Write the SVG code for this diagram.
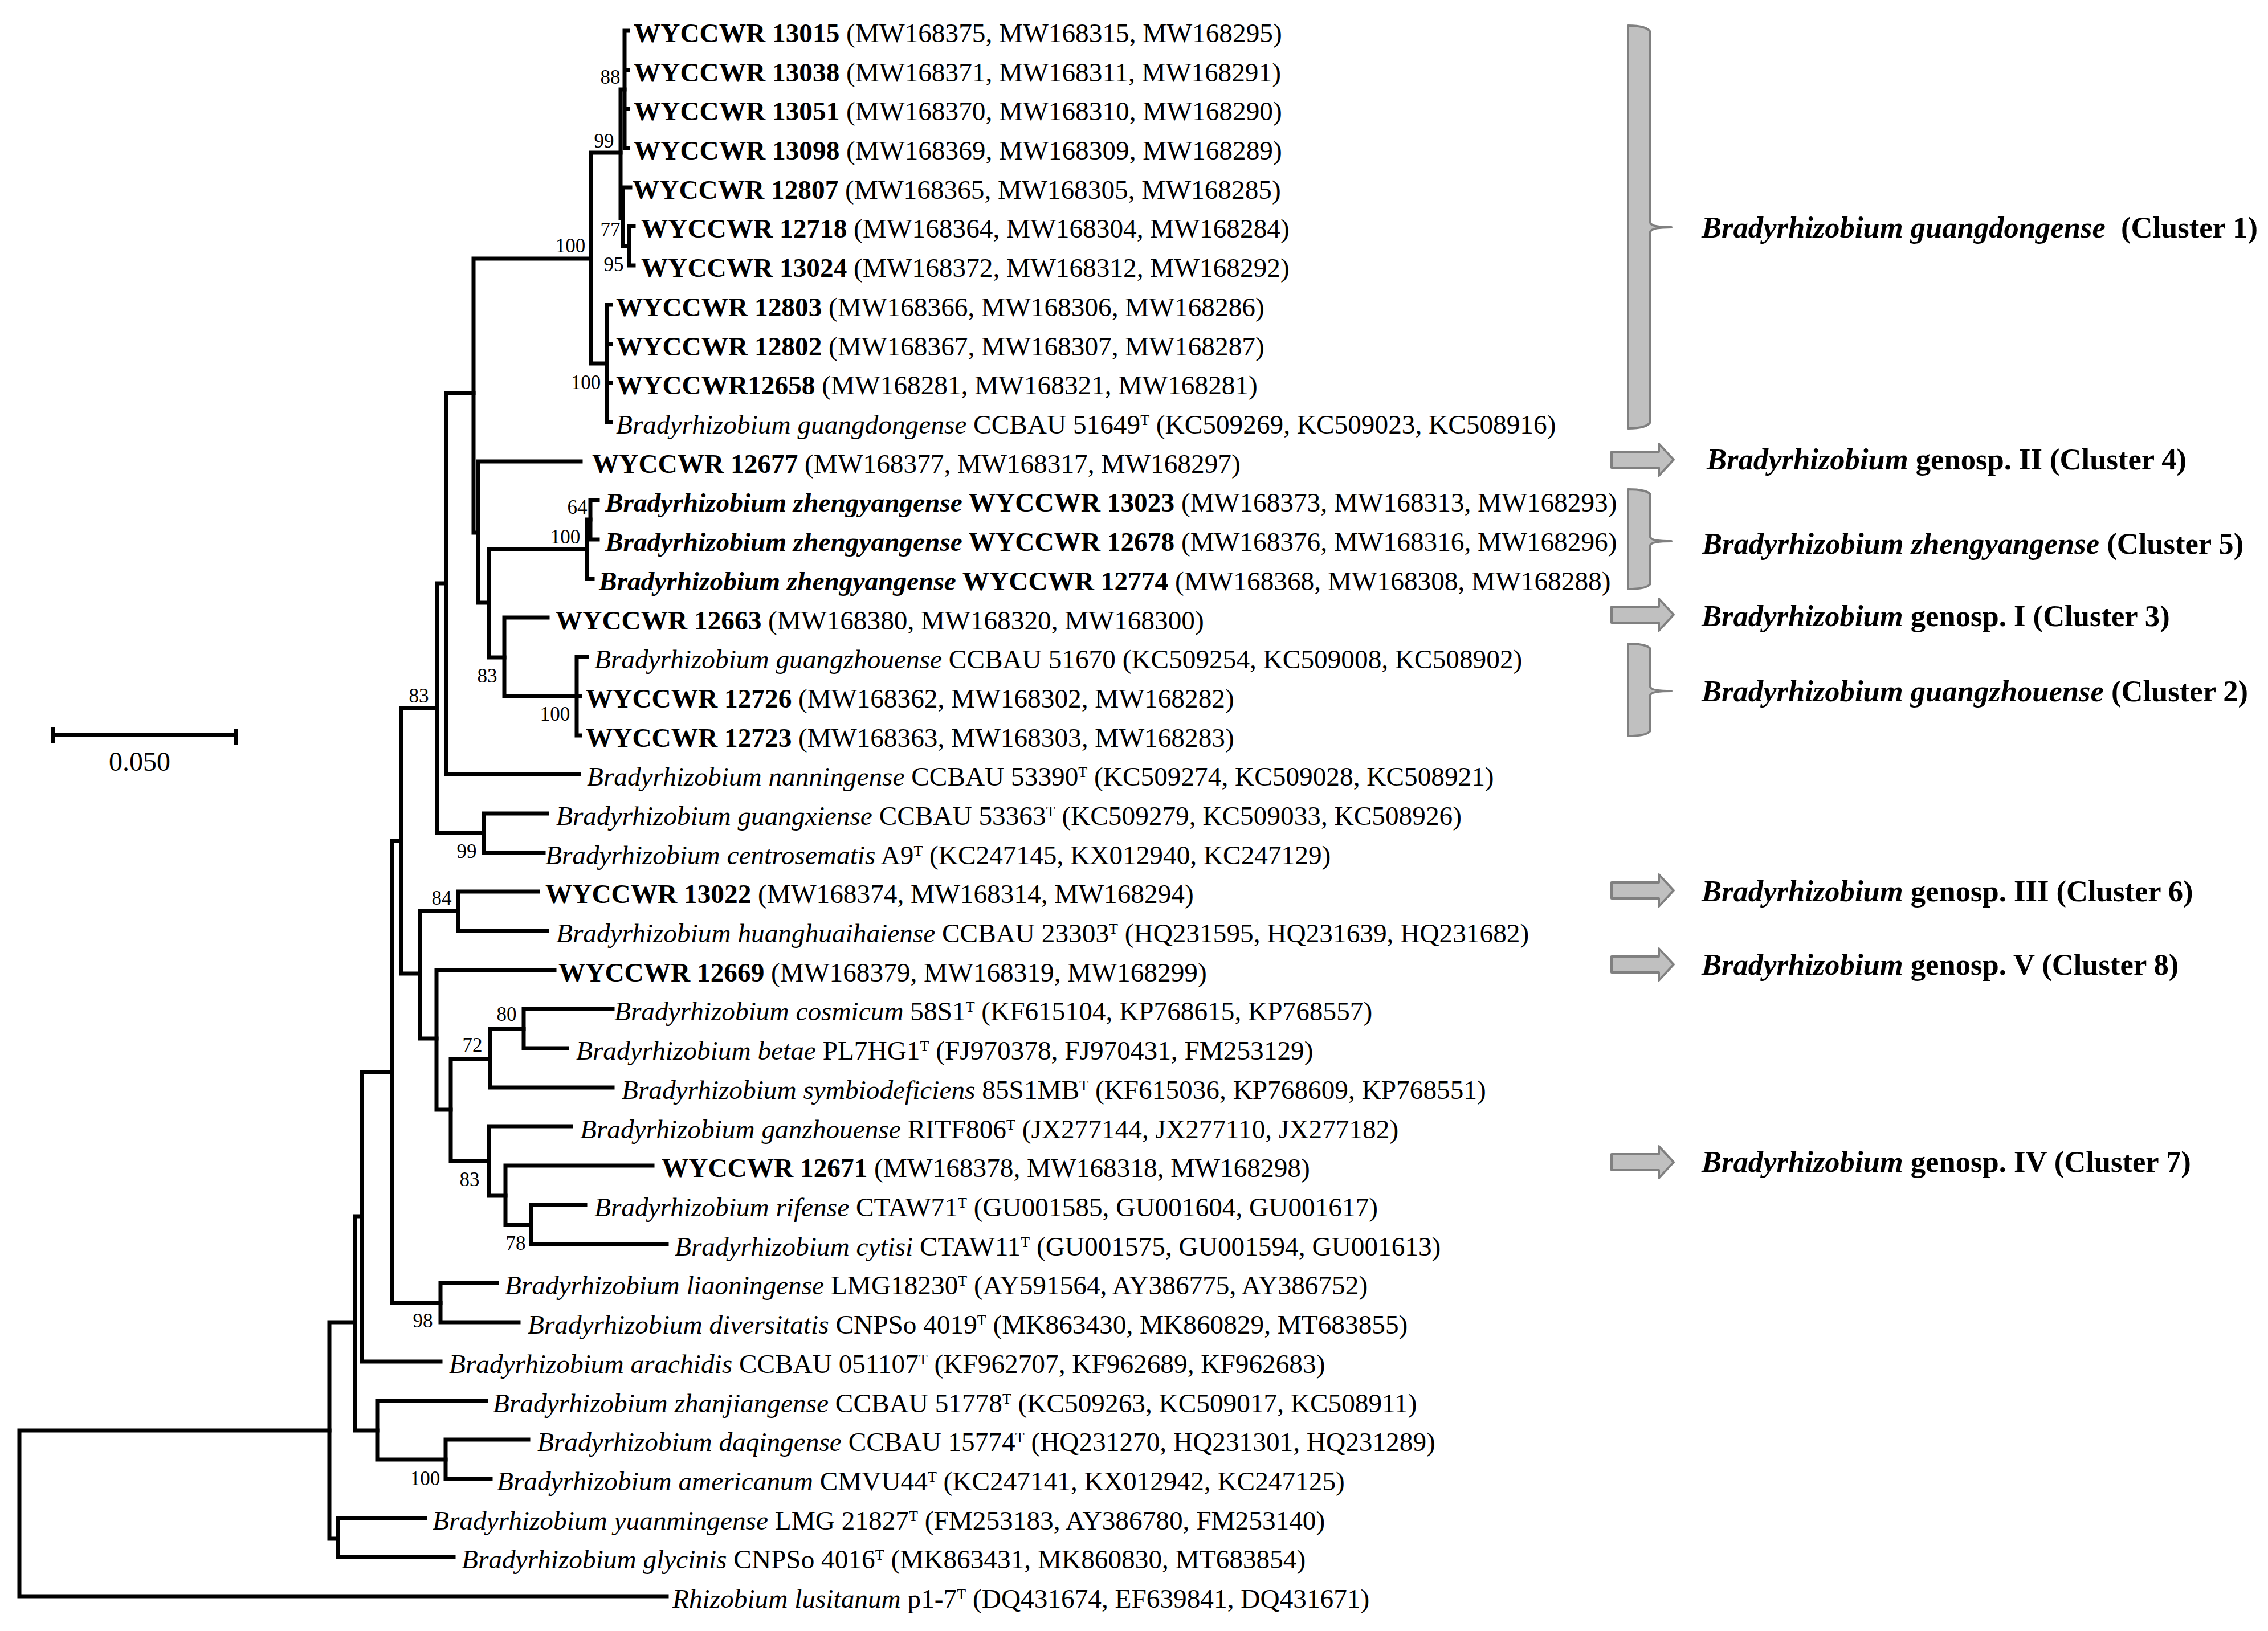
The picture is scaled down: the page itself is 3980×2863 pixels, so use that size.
<svg xmlns="http://www.w3.org/2000/svg" width="3980" height="2863" viewBox="0 0 3980 2863">
<style>
text{font-family:"Liberation Serif","Times New Roman",serif;fill:#000}
.t{font-size:47.3px}
.b{font-weight:bold}
.i{font-style:italic}
.s{font-size:26px}
.bs{font-size:35px;text-anchor:middle}
.cl{font-size:52.6px;font-weight:bold}
#connectors path{stroke:#000;stroke-width:7;fill:none;stroke-linecap:square}
.gr{fill:#c0c0c0;stroke:#808080;stroke-width:4;stroke-linejoin:round}
</style>
<rect width="3980" height="2863" fill="#fff"/>
<g id="connectors">
<path d="M34 2511V2802M34 2511H578M34 2802H1170"/>
<path d="M578 2321V2701M578 2321H623M578 2701H593"/>
<path d="M593 2665V2733M593 2665H746M593 2733H796"/>
<path d="M623 2135V2511M623 2135H635M623 2511H662"/>
<path d="M662 2459V2562M662 2459H853M662 2562H782"/>
<path d="M782 2527V2596M782 2527H927M782 2596H861"/>
<path d="M635 1882V2390M635 1882H688M635 2390H773"/>
<path d="M688 1476V2287M688 1476H704M688 2287H773"/>
<path d="M773 2252V2321M773 2252H872M773 2321H910"/>
<path d="M704 1243V1709M704 1243H767M704 1709H737"/>
<path d="M737 1599V1823M737 1599H804M737 1823H766"/>
<path d="M804 1565V1634M804 1565H944M804 1634H960"/>
<path d="M766 1703V1948M766 1703H973M766 1948H791"/>
<path d="M791 1859V2038M791 1859H860M791 2038H858"/>
<path d="M860 1806V1909M860 1806H919M860 1909H1075"/>
<path d="M919 1771V1840M919 1771H1075M919 1840H995"/>
<path d="M858 1977V2099M858 1977H1002M858 2099H887"/>
<path d="M887 2046V2150M887 2046H1145M887 2150H932"/>
<path d="M932 2115V2184M932 2115H1027M932 2184H1170"/>
<path d="M767 1024V1462M767 1024H783M767 1462H849"/>
<path d="M849 1428V1497M849 1428H960M849 1497H954"/>
<path d="M783 690V1359M783 690H831M783 1359H1016"/>
<path d="M831 454V935M831 454H1037M831 935H839"/>
<path d="M839 810V1058M839 810H1019M839 1058H858"/>
<path d="M858 964V1154M858 964H1030M858 1154H885"/>
<path d="M1030 912V1016M1030 912H1036M1030 1016H1040"/>
<path d="M1036 878V947M1036 878H1049M1036 947H1049"/>
<path d="M885 1084V1222M885 1084H961M885 1222H1012"/>
<path d="M1012 1153V1291M1012 1153H1030M1012 1222H1018M1012 1291H1018"/>
<path d="M1037 268V638M1037 268H1089M1037 638H1065"/>
<path d="M1065 535V741M1065 535H1072M1065 604H1072M1065 672H1072M1065 741H1072"/>
<path d="M1089 157V383M1089 157H1096M1089 383H1093"/>
<path d="M1096 54V260M1096 54H1102M1096 123H1102M1096 191H1102M1096 260H1102"/>
<path d="M1093 329V432M1093 329H1106M1093 432H1104"/>
<path d="M1104 397V466M1104 397H1112M1104 466H1112"/>
</g>
<g id="bootstrap">
<text class="bs" x="1071" y="147">88</text>
<text class="bs" x="1060" y="259">99</text>
<text class="bs" x="1001" y="443">100</text>
<text class="bs" x="1071" y="415">77</text>
<text class="bs" x="1077" y="476">95</text>
<text class="bs" x="1028" y="683">100</text>
<text class="bs" x="1013" y="902">64</text>
<text class="bs" x="992" y="954">100</text>
<text class="bs" x="855" y="1198">83</text>
<text class="bs" x="974" y="1265">100</text>
<text class="bs" x="735" y="1233">83</text>
<text class="bs" x="819" y="1506">99</text>
<text class="bs" x="775" y="1588">84</text>
<text class="bs" x="889" y="1792">80</text>
<text class="bs" x="829" y="1846">72</text>
<text class="bs" x="824" y="2082">83</text>
<text class="bs" x="905" y="2194">78</text>
<text class="bs" x="742" y="2330">98</text>
<text class="bs" x="746" y="2607">100</text>
</g>
<g id="taxa" class="t">
<g id="n0"><text x="1112" y="74"><tspan class="b">WYCCWR 13015</tspan> (MW168375, MW168315, MW168295)</text></g>
<g id="n1"><text x="1112" y="143"><tspan class="b">WYCCWR 13038</tspan> (MW168371, MW168311, MW168291)</text></g>
<g id="n2"><text x="1112" y="211"><tspan class="b">WYCCWR 13051</tspan> (MW168370, MW168310, MW168290)</text></g>
<g id="n3"><text x="1112" y="280"><tspan class="b">WYCCWR 13098</tspan> (MW168369, MW168309, MW168289)</text></g>
<g id="n4"><text x="1110" y="349"><tspan class="b">WYCCWR 12807</tspan> (MW168365, MW168305, MW168285)</text></g>
<g id="n5"><text x="1125" y="417"><tspan class="b">WYCCWR 12718</tspan> (MW168364, MW168304, MW168284)</text></g>
<g id="n6"><text x="1125" y="486"><tspan class="b">WYCCWR 13024</tspan> (MW168372, MW168312, MW168292)</text></g>
<g id="n7"><text x="1081" y="555"><tspan class="b">WYCCWR 12803</tspan> (MW168366, MW168306, MW168286)</text></g>
<g id="n8"><text x="1081" y="624"><tspan class="b">WYCCWR 12802</tspan> (MW168367, MW168307, MW168287)</text></g>
<g id="n9"><text x="1081" y="692"><tspan class="b">WYCCWR12658</tspan> (MW168281, MW168321, MW168281)</text></g>
<g id="n10"><text x="1081" y="761"><tspan class="i">Bradyrhizobium guangdongense</tspan> CCBAU 51649<tspan class="s" dy="-15">T</tspan><tspan dy="15"> (KC509269, KC509023, KC508916)</tspan></text></g>
<g id="n11"><text x="1039" y="830"><tspan class="b">WYCCWR 12677</tspan> (MW168377, MW168317, MW168297)</text></g>
<g id="n12"><text x="1062" y="898"><tspan class="b i">Bradyrhizobium zhengyangense</tspan><tspan class="b"> WYCCWR 13023</tspan> (MW168373, MW168313, MW168293)</text></g>
<g id="n13"><text x="1062" y="967"><tspan class="b i">Bradyrhizobium zhengyangense</tspan><tspan class="b"> WYCCWR 12678</tspan> (MW168376, MW168316, MW168296)</text></g>
<g id="n14"><text x="1051" y="1036"><tspan class="b i">Bradyrhizobium zhengyangense</tspan><tspan class="b"> WYCCWR 12774</tspan> (MW168368, MW168308, MW168288)</text></g>
<g id="n15"><text x="975" y="1105"><tspan class="b">WYCCWR 12663</tspan> (MW168380, MW168320, MW168300)</text></g>
<g id="n16"><text x="1043" y="1173"><tspan class="i">Bradyrhizobium guangzhouense</tspan> CCBAU 51670 (KC509254, KC509008, KC508902)</text></g>
<g id="n17"><text x="1028" y="1242"><tspan class="b">WYCCWR 12726</tspan> (MW168362, MW168302, MW168282)</text></g>
<g id="n18"><text x="1028" y="1311"><tspan class="b">WYCCWR 12723</tspan> (MW168363, MW168303, MW168283)</text></g>
<g id="n19"><text x="1030" y="1379"><tspan class="i">Bradyrhizobium nanningense</tspan> CCBAU 53390<tspan class="s" dy="-15">T</tspan><tspan dy="15"> (KC509274, KC509028, KC508921)</tspan></text></g>
<g id="n20"><text x="976" y="1448"><tspan class="i">Bradyrhizobium guangxiense</tspan> CCBAU 53363<tspan class="s" dy="-15">T</tspan><tspan dy="15"> (KC509279, KC509033, KC508926)</tspan></text></g>
<g id="n21"><text x="957" y="1517"><tspan class="i">Bradyrhizobium centrosematis</tspan> A9<tspan class="s" dy="-15">T</tspan><tspan dy="15"> (KC247145, KX012940, KC247129)</tspan></text></g>
<g id="n22"><text x="957" y="1585"><tspan class="b">WYCCWR 13022</tspan> (MW168374, MW168314, MW168294)</text></g>
<g id="n23"><text x="976" y="1654"><tspan class="i">Bradyrhizobium huanghuaihaiense</tspan> CCBAU 23303<tspan class="s" dy="-15">T</tspan><tspan dy="15"> (HQ231595, HQ231639, HQ231682)</tspan></text></g>
<g id="n24"><text x="980" y="1723"><tspan class="b">WYCCWR 12669</tspan> (MW168379, MW168319, MW168299)</text></g>
<g id="n25"><text x="1078" y="1791"><tspan class="i">Bradyrhizobium cosmicum</tspan> 58S1<tspan class="s" dy="-15">T</tspan><tspan dy="15"> (KF615104, KP768615, KP768557)</tspan></text></g>
<g id="n26"><text x="1011" y="1860"><tspan class="i">Bradyrhizobium betae</tspan> PL7HG1<tspan class="s" dy="-15">T</tspan><tspan dy="15"> (FJ970378, FJ970431, FM253129)</tspan></text></g>
<g id="n27"><text x="1091" y="1929"><tspan class="i">Bradyrhizobium symbiodeficiens</tspan> 85S1MB<tspan class="s" dy="-15">T</tspan><tspan dy="15"> (KF615036, KP768609, KP768551)</tspan></text></g>
<g id="n28"><text x="1018" y="1998"><tspan class="i">Bradyrhizobium ganzhouense</tspan> RITF806<tspan class="s" dy="-15">T</tspan><tspan dy="15"> (JX277144, JX277110, JX277182)</tspan></text></g>
<g id="n29"><text x="1161" y="2066"><tspan class="b">WYCCWR 12671</tspan> (MW168378, MW168318, MW168298)</text></g>
<g id="n30"><text x="1043" y="2135"><tspan class="i">Bradyrhizobium rifense</tspan> CTAW71<tspan class="s" dy="-15">T</tspan><tspan dy="15"> (GU001585, GU001604, GU001617)</tspan></text></g>
<g id="n31"><text x="1184" y="2204"><tspan class="i">Bradyrhizobium cytisi</tspan> CTAW11<tspan class="s" dy="-15">T</tspan><tspan dy="15"> (GU001575, GU001594, GU001613)</tspan></text></g>
<g id="n32"><text x="886" y="2272"><tspan class="i">Bradyrhizobium liaoningense</tspan> LMG18230<tspan class="s" dy="-15">T</tspan><tspan dy="15"> (AY591564, AY386775, AY386752)</tspan></text></g>
<g id="n33"><text x="926" y="2341"><tspan class="i">Bradyrhizobium diversitatis</tspan> CNPSo 4019<tspan class="s" dy="-15">T</tspan><tspan dy="15"> (MK863430, MK860829, MT683855)</tspan></text></g>
<g id="n34"><text x="788" y="2410"><tspan class="i">Bradyrhizobium arachidis</tspan> CCBAU 051107<tspan class="s" dy="-15">T</tspan><tspan dy="15"> (KF962707, KF962689, KF962683)</tspan></text></g>
<g id="n35"><text x="865" y="2479"><tspan class="i">Bradyrhizobium zhanjiangense</tspan> CCBAU 51778<tspan class="s" dy="-15">T</tspan><tspan dy="15"> (KC509263, KC509017, KC508911)</tspan></text></g>
<g id="n36"><text x="943" y="2547"><tspan class="i">Bradyrhizobium daqingense</tspan> CCBAU 15774<tspan class="s" dy="-15">T</tspan><tspan dy="15"> (HQ231270, HQ231301, HQ231289)</tspan></text></g>
<g id="n37"><text x="872" y="2616"><tspan class="i">Bradyrhizobium americanum</tspan> CMVU44<tspan class="s" dy="-15">T</tspan><tspan dy="15"> (KC247141, KX012942, KC247125)</tspan></text></g>
<g id="n38"><text x="759" y="2685"><tspan class="i">Bradyrhizobium yuanmingense</tspan> LMG 21827<tspan class="s" dy="-15">T</tspan><tspan dy="15"> (FM253183, AY386780, FM253140)</tspan></text></g>
<g id="n39"><text x="810" y="2753"><tspan class="i">Bradyrhizobium glycinis</tspan> CNPSo 4016<tspan class="s" dy="-15">T</tspan><tspan dy="15"> (MK863431, MK860830, MT683854)</tspan></text></g>
<g id="n40"><text x="1180" y="2822"><tspan class="i">Rhizobium lusitanum</tspan> p1-7<tspan class="s" dy="-15">T</tspan><tspan dy="15"> (DQ431674, EF639841, DQ431671)</tspan></text></g>
</g>
<g id="cluster1">
<path class="gr" d="M2857 45Q2890 45 2896 56V391Q2898 399 2933 399Q2898 399 2896 407V741Q2890 752 2857 752Z"/>
<text class="cl" x="2986" y="417"><tspan class="i">Bradyrhizobium guangdongense</tspan><tspan dx="14"> (Cluster 1)</tspan></text>
</g>
<g id="cluster4">
<path class="gr" d="M2828 793H2911V779L2937 807L2911 835V821H2828Z"/>
<text class="cl" x="2995" y="824"><tspan class="i">Bradyrhizobium</tspan> genosp. II (Cluster 4)</text>
</g>
<g id="cluster5">
<path class="gr" d="M2857 859Q2890 859 2896 868V943Q2898 950 2933 950Q2898 950 2896 957V1025Q2890 1034 2857 1034Z"/>
<text class="cl" x="2987" y="972"><tspan class="i">Bradyrhizobium zhengyangense</tspan> (Cluster 5)</text>
</g>
<g id="cluster3">
<path class="gr" d="M2828 1065H2911V1051L2937 1079L2911 1107V1093H2828Z"/>
<text class="cl" x="2986" y="1099"><tspan class="i">Bradyrhizobium</tspan> genosp. I (Cluster 3)</text>
</g>
<g id="cluster2">
<path class="gr" d="M2857 1130Q2890 1130 2896 1139V1206Q2898 1213 2933 1213Q2898 1213 2896 1220V1283Q2890 1292 2857 1292Z"/>
<text class="cl" x="2986" y="1231"><tspan class="i">Bradyrhizobium guangzhouense</tspan> (Cluster 2)</text>
</g>
<g id="cluster6">
<path class="gr" d="M2828 1549H2911V1535L2937 1563L2911 1591V1577H2828Z"/>
<text class="cl" x="2986" y="1582"><tspan class="i">Bradyrhizobium</tspan> genosp. III (Cluster 6)</text>
</g>
<g id="cluster8">
<path class="gr" d="M2828 1679H2911V1665L2937 1693L2911 1721V1707H2828Z"/>
<text class="cl" x="2986" y="1711"><tspan class="i">Bradyrhizobium</tspan> genosp. V (Cluster 8)</text>
</g>
<g id="cluster7">
<path class="gr" d="M2828 2026H2911V2012L2937 2040L2911 2068V2054H2828Z"/>
<text class="cl" x="2986" y="2057"><tspan class="i">Bradyrhizobium</tspan> genosp. IV (Cluster 7)</text>
</g>
<g id="scalebar">
<path d="M93 1290H414M93 1276V1304M414 1279V1307" stroke="#000" stroke-width="7" fill="none"/>
<text x="245" y="1353" font-size="48" text-anchor="middle">0.050</text>
</g>
</svg>
